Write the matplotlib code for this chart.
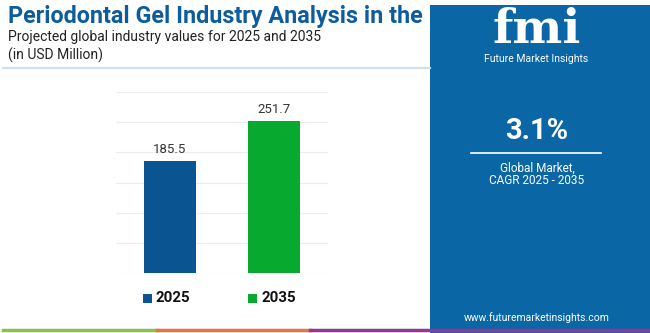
import matplotlib.pyplot as plt
from matplotlib.patches import Rectangle
from matplotlib.lines import Line2D

years = ["2025", "2035"]
values = [185.5, 251.7]
bar_colors = ["#0a5591", "#07a92e"]
cagr = "3.1%"

W, H = 650, 333
fig = plt.figure(figsize=(6.5, 3.33), dpi=100)
fig.patch.set_facecolor("white")

def fx(px):
    return px / W

def fy(py):
    return 1 - py / H

# right panel
fig.add_artist(Rectangle((fx(430), 0), fx(220), fy(5), transform=fig.transFigure,
                         facecolor="#0b66a6", edgecolor="none", zorder=0))

# header
fig.text(fx(8), fy(17), "Periodontal Gel Industry Analysis in the", fontsize=16.8,
         fontweight="bold", color="#0d5d9e", family="Roboto", va="center")
fig.text(fx(8), fy(37), "Projected global industry values for 2025 and 2035", fontsize=10,
         color="#222222", family="Roboto", va="center")
fig.text(fx(8), fy(55), "(in USD Million)", fontsize=10, color="#222222",
         family="Roboto", va="center")
fig.add_artist(Line2D([fx(3), fx(430)], [fy(68), fy(68)], color="#cfe0ec", lw=1.5))

# bottom stripe
for x0, x1, c in [(3, 157, "#8cc152"), (157, 310, "#e8734a"), (310, 650, "#8e3a96")]:
    fig.add_artist(Line2D([fx(x0), fx(x1)], [fy(330), fy(330)], color=c, lw=2.5))

# chart
ax = fig.add_axes([fx(116), fy(273), fx(212), (273 - 92) / H])
x = range(len(years))
bars = ax.bar(x, values, width=0.5, color=bar_colors, zorder=3)
ax.set_xlim(-0.52, 1.52)
ax.set_ylim(0, 300)
ax.set_yticks(range(0, 301, 50))
ax.yaxis.grid(True, color="#ececec", lw=0.8, zorder=0)
ax.tick_params(left=False, bottom=False, labelleft=False, labelbottom=False)
for s in ax.spines.values():
    s.set_visible(False)
for b, v in zip(bars, values):
    ax.text(b.get_x() + b.get_width() / 2, v + 9, f"{v}", ha="center", va="bottom",
            fontsize=9.5, color="#333333", family="Roboto")

# legend
for lx, lab, c in [(143, years[0], bar_colors[0]), (248, years[1], bar_colors[1])]:
    fig.add_artist(Rectangle((fx(lx), fy(303)), fx(9), 9 / H, transform=fig.transFigure,
                             facecolor=c, edgecolor="none"))
    fig.text(fx(lx + 13), fy(298), lab, fontsize=10.8, fontweight="bold", color="#111111",
             family="Roboto", va="center")

# logo
fig.text(fx(537), fy(30), "fmi", fontsize=34, fontweight="bold", color="white",
         family="DejaVu Serif", ha="center", va="center")
fig.text(fx(536), fy(59), "Future Market Insights", fontsize=7.5, color="white",
         family="Roboto", ha="center", va="center")

# CAGR
fig.text(fx(537), fy(131), cagr, fontsize=21, fontweight="bold", color="white",
         family="Roboto", ha="center", va="center")
fig.add_artist(Line2D([fx(471), fx(601)], [fy(153), fy(153)], color="white", lw=1.2))
fig.text(fx(537), fy(168), "Global Market,", fontsize=8.5, color="white",
         family="Roboto", ha="center", va="center")
fig.text(fx(537), fy(181), "CAGR 2025 - 2035", fontsize=8.5, color="white",
         family="Roboto", ha="center", va="center")
fig.text(fx(537), fy(318), "www.futuremarketinsights.com", fontsize=7.5, color="white",
         family="Roboto", ha="center", va="center")

fig.savefig("out.png", dpi=100)
